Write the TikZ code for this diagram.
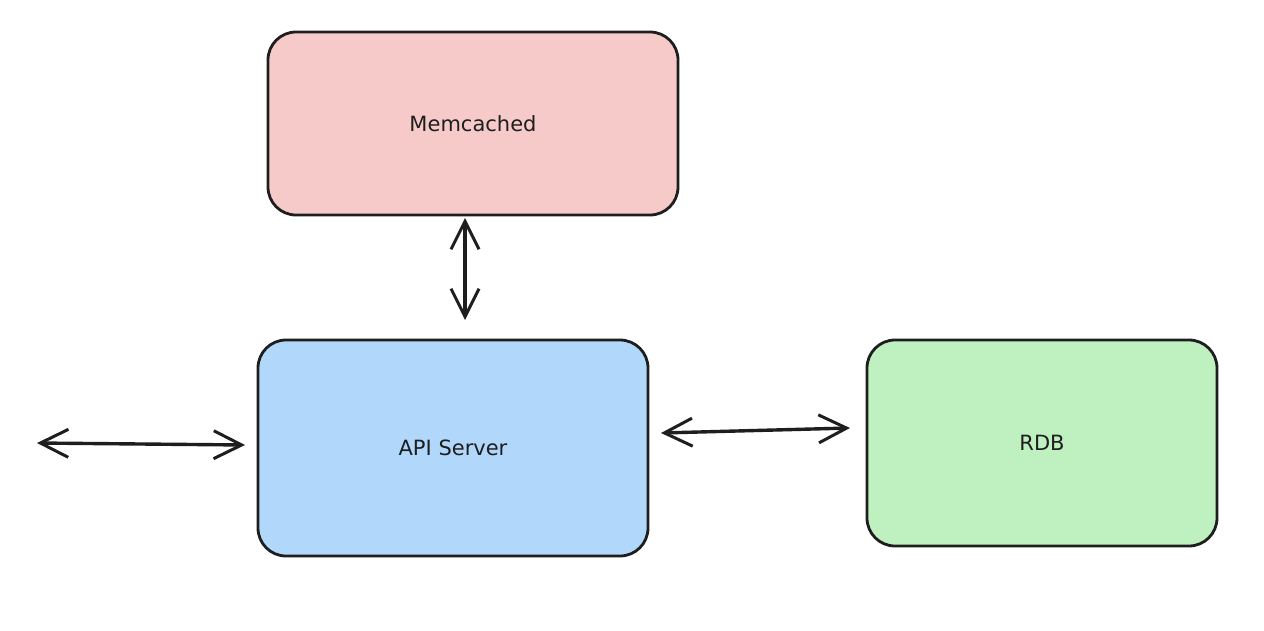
\documentclass[tikz,border=0pt]{standalone}
\usepackage{fontspec}
\setmainfont{DejaVu Sans}
\usetikzlibrary{arrows.meta}
\definecolor{ink}{HTML}{1E1E1E}
\definecolor{pinkfill}{HTML}{F7CACA}
\definecolor{bluefill}{HTML}{B1D7FA}
\definecolor{greenfill}{HTML}{BFF1C0}
\tikzset{
  boxstyle/.style={draw=ink, line width=2.8pt, rounded corners=28pt, inner sep=0pt,
    font=\fontsize{21}{25}\selectfont, text=ink},
  conn/.style={draw=ink, line width=3.4pt, line cap=round,
    {Straight Barb[length=28pt,width=28pt,line width=3pt]}-{Straight Barb[length=28pt,width=28pt,line width=3pt]}}
}
\begin{document}
\begin{tikzpicture}[x=1pt,y=-1pt]
\path[use as bounding box, fill=white] (0,0) rectangle (1264,630);
\node[boxstyle, fill=pinkfill, minimum width=410pt, minimum height=183pt] (mem) at (473,123.5) {Memcached};
\node[boxstyle, fill=bluefill, minimum width=390pt, minimum height=216pt] (api) at (453,448) {API Server};
\node[boxstyle, fill=greenfill, minimum width=350pt, minimum height=206pt] (rdb) at (1042,443) {RDB};
\coordinate (ext) at (37,443);
\coordinate (memb) at (465,218);
\coordinate (apit) at (465,320);
\coordinate (apil) at (245,445);
\coordinate (apir) at (661,433);
\coordinate (rdbl) at (850,428);
\draw[conn] (memb) -- (apit);
\draw[conn] (ext) -- (apil);
\draw[conn] (apir) -- (rdbl);
\end{tikzpicture}
\end{document}
